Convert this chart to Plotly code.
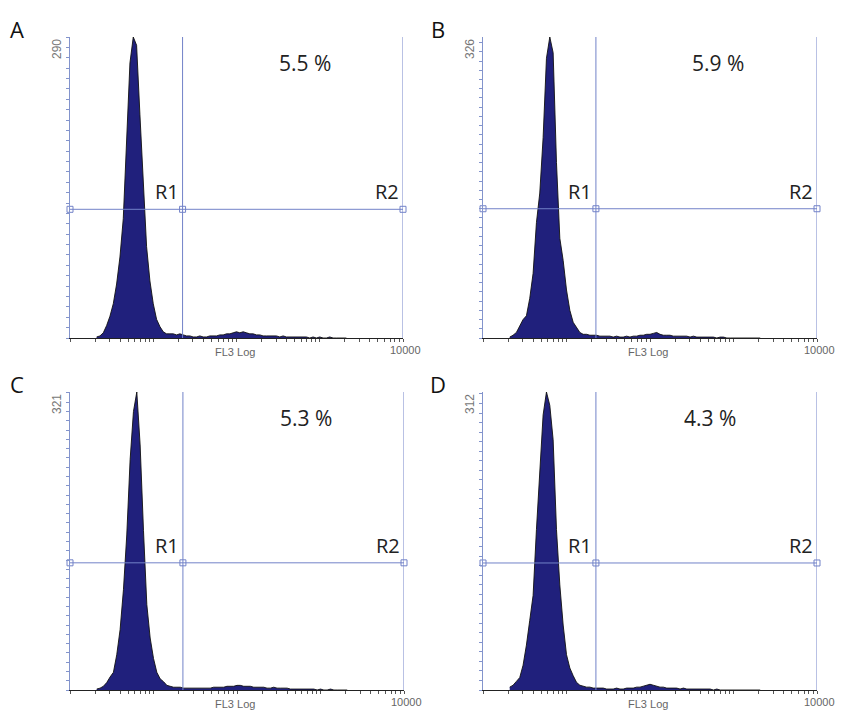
import math
import plotly.graph_objects as go

# ---- data -------------------------------------------------------------
# histogram channel centres, in decades of FL3 (log10)
log_channels = [round(0.32 + 0.04 * i, 2) for i in range(76)]

counts_A = [1, 2, 5, 12, 21, 33, 52, 78, 115, 185,
            265, 290, 282, 215, 145, 88, 55, 33, 18, 11,
            6, 4, 4, 4, 3, 4, 3, 2, 2, 1,
            1, 2, 1, 1, 2, 2, 2, 3, 3, 4,
            4, 5, 6, 5, 6, 5, 4, 4, 3, 3,
            2, 2, 2, 2, 2, 1, 2, 1, 1, 1,
            1, 1, 1, 1, 0, 1, 0, 1, 0, 0,
            1, 0, 0, 0, 0, 0]
counts_B = [1, 3, 6, 13, 20, 24, 43, 70, 125, 157,
            217, 303, 326, 309, 190, 108, 84, 52, 30, 17,
            11, 6, 4, 4, 3, 3, 3, 2, 2, 2,
            2, 1, 2, 1, 1, 2, 1, 2, 2, 3,
            3, 4, 4, 5, 6, 4, 3, 3, 3, 2,
            2, 2, 2, 2, 1, 2, 1, 1, 1, 1,
            1, 1, 0, 1, 1, 0, 0, 0, 0, 0,
            0, 0, 0, 0, 0, 0]
counts_C = [1, 2, 4, 8, 14, 19, 38, 65, 108, 167,
            248, 300, 321, 264, 172, 92, 56, 34, 19, 12,
            9, 5, 4, 3, 3, 3, 2, 2, 2, 2,
            2, 2, 2, 2, 2, 3, 3, 3, 3, 4,
            4, 4, 5, 5, 4, 4, 4, 3, 3, 3,
            3, 2, 2, 3, 2, 2, 2, 2, 1, 1,
            1, 1, 1, 1, 1, 1, 0, 1, 0, 0,
            1, 0, 0, 0, 0, 0]
counts_D = [3, 5, 9, 13, 26, 47, 73, 99, 168, 230,
            288, 312, 298, 262, 168, 110, 68, 37, 23, 15,
            8, 5, 4, 3, 3, 2, 2, 2, 2, 1,
            1, 1, 2, 1, 1, 2, 2, 2, 3, 3,
            4, 5, 6, 5, 4, 3, 3, 2, 2, 2,
            2, 1, 2, 1, 1, 1, 1, 1, 1, 1,
            1, 0, 1, 0, 0, 0, 0, 0, 0, 0,
            0, 0, 0, 0, 0, 0]

panel_letters = ["A", "B", "C", "D"]
y_max = [290, 326, 321, 312]
percent_R2 = ["5.5 %", "5.9 %", "5.3 %", "4.3 %"]
gate_R1_upper = [22.5, 22.5, 22.5, 22.5]
gate_R2_upper = [10000, 10000, 10000, 10000]
gate_marker_height = [124, 140, 137, 133]
x_axis_title = "FL3 Log"
x_end_label = "10000"
all_counts = [counts_A, counts_B, counts_C, counts_D]

# ---- layout geometry (paper fractions) --------------------------------
W, H = 847, 711
panels_px = [  # left, right, top, bottom in pixels
    (70, 403, 37, 338),
    (483, 817, 37, 338),
    (70, 404, 392, 690),
    (483, 817, 392, 690),
]
pct_xpos = [0.706, 0.704, 0.706, 0.68]

GATE = "#7282c8"
YAX = "#8394cc"
FILL = "#20207c"

fig = go.Figure()
layout_axes = {}
annotations = []

for k in range(4):
    xa = "x" if k == 0 else f"x{k+1}"
    ya = "y" if k == 0 else f"y{k+1}"
    xname = "xaxis" if k == 0 else f"xaxis{k+1}"
    yname = "yaxis" if k == 0 else f"yaxis{k+1}"
    l, r, t, b = panels_px[k]

    xs = [10 ** c for c in log_channels]
    ys = all_counts[k]
    fig.add_trace(go.Scatter(
        x=xs, y=ys, mode="lines", line=dict(shape="linear", color="#111", width=0.9),
        fill="tozeroy", fillcolor=FILL, xaxis=xa, yaxis=ya, showlegend=False,
        hoverinfo="skip"))

    # gate lines
    g1, g2, gh, ym = gate_R1_upper[k], gate_R2_upper[k], gate_marker_height[k], y_max[k]
    for gx in (g1, g2):
        fig.add_trace(go.Scatter(
            x=[gx, gx], y=[0, ym], mode="lines", line=dict(color=GATE, width=1),
            xaxis=xa, yaxis=ya, showlegend=False, hoverinfo="skip", cliponaxis=False))
    fig.add_trace(go.Scatter(
        x=[1, g1, g2], y=[gh, gh, gh], mode="lines+markers",
        line=dict(color=GATE, width=1),
        marker=dict(symbol="square-open", size=6, color=GATE, line=dict(width=1, color=GATE)),
        xaxis=xa, yaxis=ya, showlegend=False, hoverinfo="skip", cliponaxis=False))

    tickvals = [d * 10 ** p for p in range(4) for d in range(1, 10)] + [10000]
    layout_axes[xname] = dict(
        type="log", range=[0, 4], domain=[l / W, r / W], anchor=ya,
        showgrid=False, zeroline=False, showline=True, linecolor="#222", linewidth=1,
        tickmode="array", tickvals=tickvals, ticks="outside", ticklen=3,
        tickcolor="#555", tickwidth=1, showticklabels=False, fixedrange=True)
    layout_axes[yname] = dict(
        range=[0, ym], domain=[1 - b / H, 1 - t / H], anchor=xa,
        showgrid=False, zeroline=False, showline=True, linecolor=YAX, linewidth=1,
        tickmode="linear", tick0=0, dtick=10, ticks="outside", ticklen=3,
        tickcolor=YAX, tickwidth=1, showticklabels=False, fixedrange=True)

    xd, yd = f"{xa} domain", f"{ya} domain"
    # panel letter
    annotations.append(dict(text=panel_letters[k], x=(l - 53 if k % 2 == 0 else l - 45) / W,
                            y=1 - (t - 8) / H, xref="paper", yref="paper",
                            showarrow=False, xanchor="center", yanchor="middle",
                            font=dict(family="Open Sans", size=22, color="#111")))
    # y max label
    annotations.append(dict(text=str(ym), x=0, y=1, xref=xd, yref=yd, xshift=-13,
                            textangle=-90, showarrow=False, xanchor="center", yanchor="top",
                            font=dict(family="Liberation Sans", size=12, color="#777")))
    # percent
    annotations.append(dict(text=percent_R2[k], x=pct_xpos[k], y=0.912, xref=xd, yref=yd,
                            showarrow=False, xanchor="center", yanchor="middle",
                            font=dict(family="Open Sans", size=21, color="#222")))
    # R1 / R2 (annotation x on log axes is given in decades)
    annotations.append(dict(text="R1", x=math.log10(g1), y=gh, xref=xa, yref=ya,
                            xshift=-2, yshift=2,
                            showarrow=False, xanchor="right", yanchor="bottom",
                            font=dict(family="Open Sans", size=20, color="#222")))
    annotations.append(dict(text="R2", x=math.log10(g2), y=gh, xref=xa, yref=ya,
                            xshift=-2, yshift=2,
                            showarrow=False, xanchor="right", yanchor="bottom",
                            font=dict(family="Open Sans", size=20, color="#222")))
    # x labels
    annotations.append(dict(text=x_axis_title, x=0.495, y=0, xref=xd, yref=yd, yshift=-14,
                            showarrow=False, xanchor="center", yanchor="middle",
                            font=dict(family="Liberation Sans", size=11, color="#666")))
    annotations.append(dict(text=x_end_label, x=1, y=0, xref=xd, yref=yd, yshift=-12, xshift=2,
                            showarrow=False, xanchor="center", yanchor="middle",
                            font=dict(family="Liberation Sans", size=11, color="#666")))

fig.update_layout(
    width=W, height=H, margin=dict(l=0, r=0, t=0, b=0),
    paper_bgcolor="white", plot_bgcolor="white",
    annotations=annotations, **layout_axes)

fig.write_html("out.html")
